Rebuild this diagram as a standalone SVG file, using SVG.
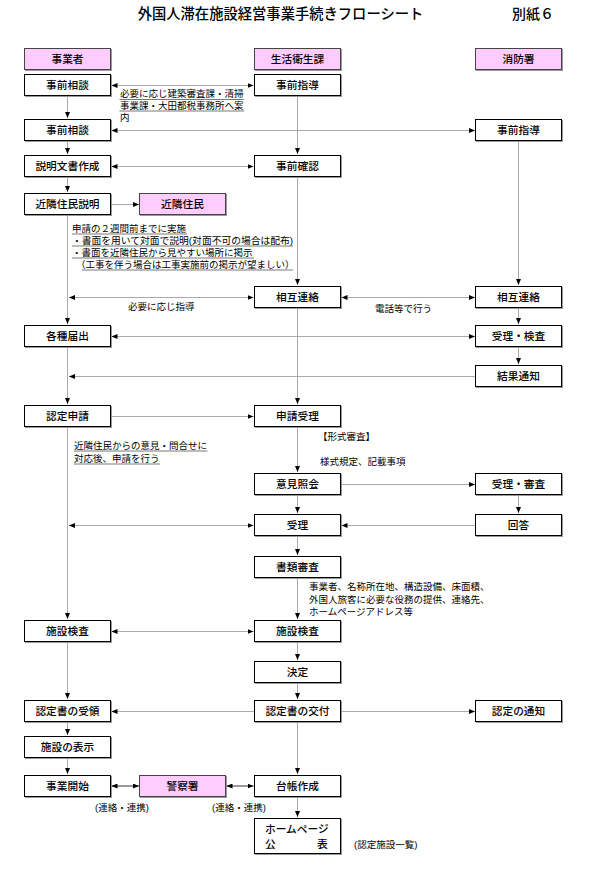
<svg xmlns="http://www.w3.org/2000/svg" width="598" height="870" viewBox="0 0 598 870">
<style>
text{font-family:"Liberation Sans","Noto Sans CJK JP",sans-serif;fill:#000;dominant-baseline:central}
.t{font-size:14.3px;text-anchor:middle;font-weight:500}
.t2{font-size:14px;font-weight:500}
.lbl{font-size:10.7px;text-anchor:middle;font-weight:500}
.n{font-size:9.5px}
.box{fill:#fff;stroke:#000;stroke-width:1;filter:drop-shadow(1px 1px 0 #999)}
.pk{fill:#FFCCFF;stroke:#444;stroke-width:1;filter:drop-shadow(1px 1px 0 #999)}
.c{stroke:#aaa;stroke-width:1;fill:none}
.cv{marker-end:url(#ah)}
.cd{marker-start:url(#ah);marker-end:url(#ah)}
.thick{stroke:#999;stroke-width:2}
.u{stroke:#555;stroke-width:0.8}
</style>
<defs>
<marker id="ah" viewBox="0 0 6 5" refX="6" refY="2.5" markerWidth="6" markerHeight="5" markerUnits="userSpaceOnUse" orient="auto-start-reverse">
<path d="M0,0 L6,2.5 L0,5 z" fill="#000"/>
</marker>
</defs>

<text class="t" x="280.5" y="14">外国人滞在施設経営事業手続きフローシート</text>
<text class="t2" x="512" y="14">別紙６</text>

<g id="connectors">
<path class="c cv" d="M67.5,95.5 V118"/>
<path class="c cv" d="M67.5,140.5 V154"/>
<path class="c cv" d="M67.5,176.5 V192"/>
<path class="c cv" d="M67.5,214.5 V324"/>
<path class="c cv" d="M67.5,346.5 V404"/>
<path class="c cv" d="M67.5,426.5 V619"/>
<path class="c cv" d="M67.5,641.5 V699"/>
<path class="c cv" d="M67.5,721.5 V735"/>
<path class="c cv" d="M67.5,757.5 V774"/>
<path class="c cv" d="M297.5,95.5 V154"/>
<path class="c cv" d="M297.5,176.5 V285"/>
<path class="c cv" d="M297.5,307.5 V404"/>
<path class="c cv" d="M297.5,426.5 V472"/>
<path class="c cv" d="M297.5,494.5 V513"/>
<path class="c cv" d="M297.5,535.5 V555"/>
<path class="c cv" d="M297.5,577.5 V619"/>
<path class="c cv" d="M297.5,641.5 V660"/>
<path class="c cv" d="M297.5,682.5 V699"/>
<path class="c cv" d="M297.5,721.5 V774"/>
<path class="c cv" d="M297.5,796.5 V817"/>
<path class="c cv" d="M518.5,140.5 V285"/>
<path class="c cv" d="M518.5,307.5 V324"/>
<path class="c cv" d="M518.5,346.5 V364"/>
<path class="c cv" d="M518.5,494.5 V513"/>
<path class="c cd" d="M111.5,85.5 H253.5"/>
<path class="c cd" d="M111.5,130.5 H475"/>
<path class="c cd" d="M111.5,166.5 H253.5"/>
<path class="c cv" d="M111.5,204.5 H139"/>
<path class="c cd" d="M69,297.5 H253.5"/>
<path class="c cd" d="M341.5,297.5 H475"/>
<path class="c cd" d="M111.5,336.5 H475"/>
<path class="c cv" d="M475,376.5 H69"/>
<path class="c cv" d="M111.5,416.5 H253.5"/>
<path class="c cv" d="M341.5,484.5 H475"/>
<path class="c cd" d="M69,525.5 H253.5"/>
<path class="c cv" d="M475,525.5 H341.5"/>
<path class="c cd" d="M111.5,631.5 H253.5"/>
<path class="c cv" d="M254,711.5 H111.5"/>
<path class="c cv" d="M341.5,711.5 H475"/>
<path class="c cd thick" d="M111.5,786 H139"/>
<path class="c cd thick" d="M226.5,786 H253.5"/>
</g>

<g id="h-jigyosha"><rect class="pk" x="24.5" y="48.5" width="86" height="21"/><text class="lbl" x="67.5" y="59">事業者</text></g>
<g id="h-seikatsu"><rect class="pk" x="254.5" y="48.5" width="86" height="21"/><text class="lbl" x="297.5" y="59">生活衛生課</text></g>
<g id="h-shobo"><rect class="pk" x="475.5" y="48.5" width="86" height="21"/><text class="lbl" x="518.5" y="59">消防署</text></g>

<g id="n-jizensodan1"><rect class="box" x="24.5" y="74.5" width="86" height="21"/><text class="lbl" x="67.5" y="85">事前相談</text></g>
<g id="n-jizenshido1"><rect class="box" x="254.5" y="74.5" width="86" height="21"/><text class="lbl" x="297.5" y="85">事前指導</text></g>
<g id="n-jizensodan2"><rect class="box" x="24.5" y="119.5" width="86" height="21"/><text class="lbl" x="67.5" y="130">事前相談</text></g>
<g id="n-jizenshido2"><rect class="box" x="475.5" y="119.5" width="86" height="21"/><text class="lbl" x="518.5" y="130">事前指導</text></g>
<g id="n-setsumei"><rect class="box" x="24.5" y="155.5" width="86" height="21"/><text class="lbl" x="67.5" y="166">説明文書作成</text></g>
<g id="n-jizenkakunin"><rect class="box" x="254.5" y="155.5" width="86" height="21"/><text class="lbl" x="297.5" y="166">事前確認</text></g>
<g id="n-kinrinsetsumei"><rect class="box" x="24.5" y="193.5" width="86" height="21"/><text class="lbl" x="67.5" y="204">近隣住民説明</text></g>
<g id="n-kinrin"><rect class="pk" x="139.5" y="193.5" width="86" height="21"/><text class="lbl" x="182.5" y="204">近隣住民</text></g>
<g id="n-sogo1"><rect class="box" x="254.5" y="286.5" width="86" height="21"/><text class="lbl" x="297.5" y="297">相互連絡</text></g>
<g id="n-sogo2"><rect class="box" x="475.5" y="286.5" width="86" height="21"/><text class="lbl" x="518.5" y="297">相互連絡</text></g>
<g id="n-todokede"><rect class="box" x="24.5" y="325.5" width="86" height="21"/><text class="lbl" x="67.5" y="336">各種届出</text></g>
<g id="n-jurikensa"><rect class="box" x="475.5" y="325.5" width="86" height="21"/><text class="lbl" x="518.5" y="336">受理・検査</text></g>
<g id="n-kekka"><rect class="box" x="475.5" y="365.5" width="86" height="21"/><text class="lbl" x="518.5" y="376">結果通知</text></g>
<g id="n-ninteishinsei"><rect class="box" x="24.5" y="405.5" width="86" height="21"/><text class="lbl" x="67.5" y="416">認定申請</text></g>
<g id="n-shinseijuri"><rect class="box" x="254.5" y="405.5" width="86" height="21"/><text class="lbl" x="297.5" y="416">申請受理</text></g>
<g id="n-ikenshokai"><rect class="box" x="254.5" y="473.5" width="86" height="21"/><text class="lbl" x="297.5" y="484">意見照会</text></g>
<g id="n-jurishinsa"><rect class="box" x="475.5" y="473.5" width="86" height="21"/><text class="lbl" x="518.5" y="484">受理・審査</text></g>
<g id="n-juri"><rect class="box" x="254.5" y="514.5" width="86" height="21"/><text class="lbl" x="297.5" y="525">受理</text></g>
<g id="n-kaito"><rect class="box" x="475.5" y="514.5" width="86" height="21"/><text class="lbl" x="518.5" y="525">回答</text></g>
<g id="n-shorui"><rect class="box" x="254.5" y="556.5" width="86" height="21"/><text class="lbl" x="297.5" y="567">書類審査</text></g>
<g id="n-shisetsukensa1"><rect class="box" x="24.5" y="620.5" width="86" height="21"/><text class="lbl" x="67.5" y="631">施設検査</text></g>
<g id="n-shisetsukensa2"><rect class="box" x="254.5" y="620.5" width="86" height="21"/><text class="lbl" x="297.5" y="631">施設検査</text></g>
<g id="n-kettei"><rect class="box" x="254.5" y="661.5" width="86" height="21"/><text class="lbl" x="297.5" y="672">決定</text></g>
<g id="n-juryo"><rect class="box" x="24.5" y="700.5" width="86" height="21"/><text class="lbl" x="67.5" y="711">認定書の受領</text></g>
<g id="n-kofu"><rect class="box" x="254.5" y="700.5" width="86" height="21"/><text class="lbl" x="297.5" y="711">認定書の交付</text></g>
<g id="n-tsuchi"><rect class="box" x="475.5" y="700.5" width="86" height="21"/><text class="lbl" x="518.5" y="711">認定の通知</text></g>
<g id="n-hyoji"><rect class="box" x="24.5" y="736.5" width="86" height="21"/><text class="lbl" x="67.5" y="747">施設の表示</text></g>
<g id="n-kaishi"><rect class="box" x="24.5" y="775.5" width="86" height="21"/><text class="lbl" x="67.5" y="786">事業開始</text></g>
<g id="n-keisatsu"><rect class="pk" x="139.5" y="775.5" width="86" height="21"/><text class="lbl" x="182.5" y="786">警察署</text></g>
<g id="n-daicho"><rect class="box" x="254.5" y="775.5" width="86" height="21"/><text class="lbl" x="297.5" y="786">台帳作成</text></g>
<g id="n-homepage"><rect class="box" x="254.5" y="818.5" width="86" height="35"/><text class="lbl" x="265" y="829" style="text-anchor:start">ホームページ</text><text class="lbl" x="265" y="844" style="text-anchor:start">公</text><text class="lbl" x="317" y="844" style="text-anchor:start">表</text></g>

<g id="notes">
<text class="n" x="120" y="93.5">必要に応じ建築審査課・清掃</text>
<text class="n" x="120" y="105.5">事業課・大田都税事務所へ案</text>
<text class="n" x="120" y="117.5">内</text>
<path class="u" d="M119.5,99.5 H244 M119.5,111 H244"/>

<text class="n" x="72" y="228.5">申請の２週間前までに実施</text>
<text class="n" x="72" y="240.5" textLength="221" lengthAdjust="spacingAndGlyphs">・書面を用いて対面で説明(対面不可の場合は配布)</text>
<text class="n" x="72" y="252.5">・書面を近隣住民から見やすい場所に掲示</text>
<text class="n" x="76" y="264.5">（工事を伴う場合は工事実施前の掲示が望ましい）</text>
<path class="u" d="M72,234 H187 M72,246 H293 M72,258 H254 M82,270 H293"/>

<text class="n" x="128" y="306.5">必要に応じ指導</text>
<text class="n" x="375" y="308.5">電話等で行う</text>
<text class="n" x="318" y="436.5">【形式審査】</text>
<text class="n" x="74" y="445.5">近隣住民からの意見・問合せに</text>
<text class="n" x="74" y="458.5">対応後、申請を行う</text>
<path class="u" d="M74,451 H207.5 M74,464 H160"/>
<text class="n" x="320" y="461.5">様式規定、記載事項</text>
<text class="n" x="309" y="586.5">事業者、名称所在地、構造設備、床面積、</text>
<text class="n" x="309" y="599.5">外国人旅客に必要な役務の提供、連絡先、</text>
<text class="n" x="309" y="611.5">ホームページアドレス等</text>
<text class="n" x="95" y="807.5">(連絡・連携)</text>
<text class="n" x="212" y="807.5">(連絡・連携)</text>
<text class="n" x="354" y="844">(認定施設一覧)</text>
</g>
</svg>
